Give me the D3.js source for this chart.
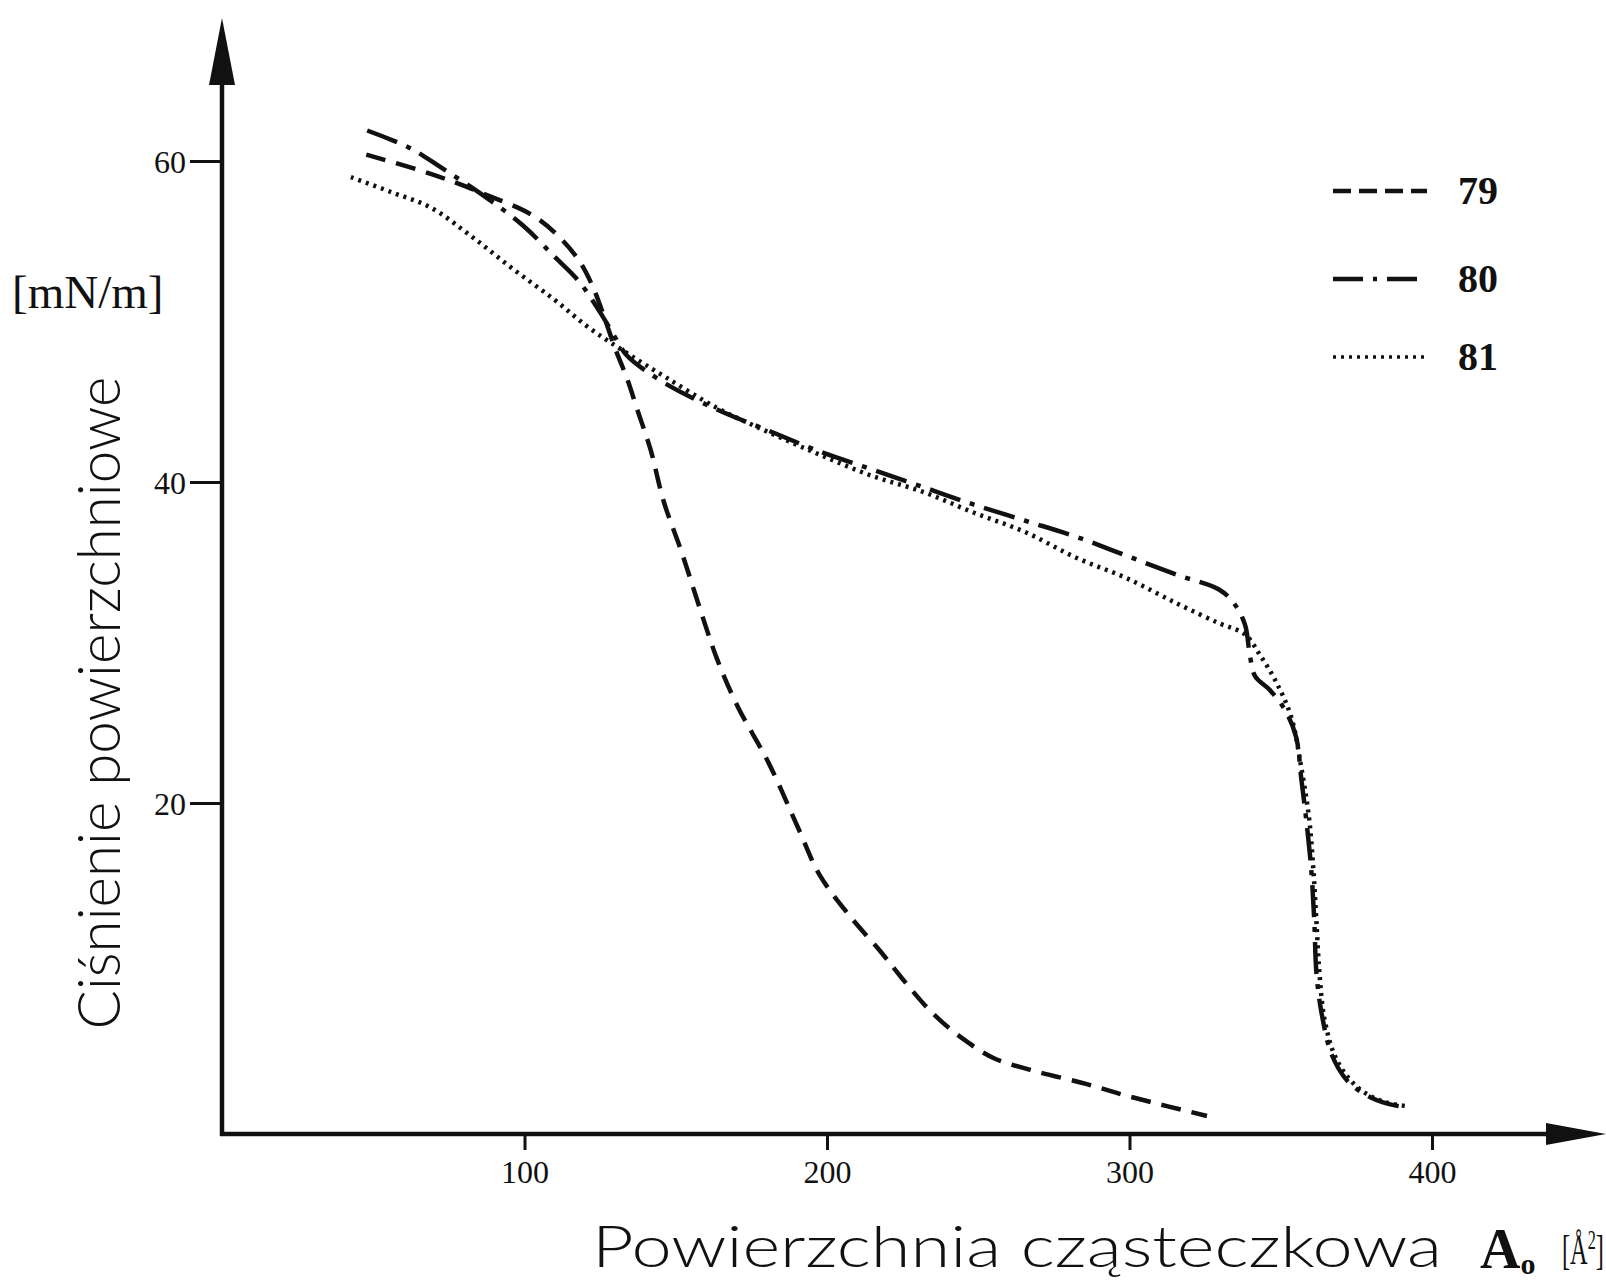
<!DOCTYPE html>
<html lang="pl">
<head>
<meta charset="utf-8">
<title>Izotermy</title>
<script src="https://cdn.jsdelivr.net/npm/d3@7"></script>
<style>
  body { margin: 0; background: #fff; }
  .tick text { font-family: "Liberation Serif", serif; font-size: 32px; fill: #111; }
  .tick line { stroke: #111; stroke-width: 3px; }
  .curve { fill: none; stroke: #111; stroke-width: 4.5px; }
  .hand { font-family: Lato, "Open Sans", sans-serif; font-weight: 300; fill: #111; }
  .serif { font-family: "Liberation Serif", serif; fill: #111; }
</style>
</head>
<body>
<div id="chart"></div>
<script>
// pole powierzchni na czasteczke [A^2] i cisnienie [mN/m]
var area79 = [47.7, 69, 86, 102.8, 111.3, 118, 122.5, 126.5, 130, 134, 137.3, 141.7, 146, 152, 158.7, 163.8, 170.5, 180.7, 190.8, 197.6, 207.8, 217.9, 224.7, 234.9, 245, 255.2, 268.7, 285.6, 299.2, 312.7, 325.6];
var pi79   = [60.4, 59.2, 58.0, 56.6, 55.3, 53.8, 52.2, 50.2, 48.3, 46.4, 44.5, 42, 38.8, 35.6, 31.7, 28.9, 26, 22.5, 18.3, 15.5, 12.9, 10.7, 9.1, 6.9, 5.3, 4.1, 3.3, 2.5, 1.75, 1.1, 0.5];

var area80 = [48, 62.2, 72.4, 86, 99.4, 109.6, 118, 124.9, 130, 133.3, 136.7, 146.9, 163.8, 180.7, 197.6, 214.6, 231.5, 248.4, 265.3, 282.2, 299.1, 316, 329.6, 334.7, 338.2, 339.8, 341.5, 346.6, 351.7, 355.1, 356.8, 358.4, 360.1, 361.1, 361.8, 363.5, 366.9, 372, 378.7, 385.5, 391.3];
var pi80   = [61.9, 60.8, 59.6, 57.9, 56, 54.1, 52.5, 50.6, 49, 48, 47.4, 46.1, 44.5, 43.2, 41.9, 40.8, 39.7, 38.6, 37.6, 36.6, 35.4, 34.2, 33.3, 32.4, 31.1, 29.2, 27.9, 27, 25.7, 24.1, 21.5, 19, 15.8, 12.6, 9.4, 6.9, 4.3, 2.7, 1.75, 1.25, 1.05];

var area81 = [42.6, 55.4, 69, 82.5, 96, 109.6, 121.4, 133.3, 146.9, 163.8, 180.7, 197.6, 214.6, 231.5, 248.4, 265.3, 282.2, 299.1, 316, 329.6, 338.2, 343.2, 348.3, 353.4, 356.8, 359.4, 360.8, 361.8, 362.8, 364.5, 368.5, 375.3, 383.8, 392.3];
var pi81   = [59, 58.1, 57.1, 55.3, 53.3, 51.4, 49.6, 48.1, 46.5, 44.6, 43.1, 41.7, 40.4, 39.4, 38.1, 36.9, 35.3, 34, 32.4, 31.2, 30.5, 29.2, 27.6, 25.4, 22.2, 19, 15.8, 12.6, 9.4, 6.5, 4, 2.3, 1.4, 1.1];

var seriesNames = ["79", "80", "81"];
var xTicks = [100, 200, 300, 400];
var yTicks = [20, 40, 60];

var width = 1606, height = 1282;
var ox = 222, oy = 1134;

var svg = d3.select("#chart").append("svg")
    .attr("width", width)
    .attr("height", height);

var x = d3.scaleLinear().domain([0, 400]).range([ox, 1432]);
var y = d3.scaleLinear().domain([0, 60]).range([1124, 161]);

// osie ze strzalkami
svg.append("line").attr("x1", ox).attr("y1", oy + 2).attr("x2", ox).attr("y2", 80)
    .attr("stroke", "#111").attr("stroke-width", 4.5);
svg.append("path").attr("d", "M" + ox + ",18 L" + (ox - 13) + ",85 L" + (ox + 13) + ",85 Z").attr("fill", "#111");

svg.append("line").attr("x1", ox - 2).attr("y1", oy).attr("x2", 1552).attr("y2", oy)
    .attr("stroke", "#111").attr("stroke-width", 4.5);
svg.append("path").attr("d", "M1606," + oy + " L1546," + (oy - 11) + " L1546," + (oy + 11) + " Z").attr("fill", "#111");

var gx = svg.append("g").attr("transform", "translate(0," + oy + ")")
    .call(d3.axisBottom(x).tickValues(xTicks).tickSize(16).tickPadding(10).tickFormat(d3.format("d")));
gx.select(".domain").remove();

var gy = svg.append("g").attr("transform", "translate(" + ox + ",0)")
    .call(d3.axisLeft(y).tickValues(yTicks).tickSize(32).tickPadding(4).tickFormat(d3.format("d")));
gy.select(".domain").remove();
gy.selectAll(".tick text").attr("dy", "0.36em");

// krzywe
var lineY = d3.line().x(function(d) { return x(d[0]); }).y(function(d) { return y(d[1]); }).curve(d3.curveCatmullRom.alpha(0.5));

var dashes = ["20,11", "32,10,5,10", "3,5"];
var data = [d3.zip(area79, pi79), d3.zip(area80, pi80), d3.zip(area81, pi81)];

svg.selectAll(".curve").data(data).enter().append("path")
    .attr("class", "curve")
    .attr("d", lineY)
    .attr("stroke-dasharray", function(d, i) { return dashes[i]; })
    .attr("stroke-width", function(d, i) { return i == 2 ? 3.5 : 4.5; });

// legenda
var leg = svg.selectAll(".leg").data(seriesNames).enter().append("g")
    .attr("class", "leg")
    .attr("transform", function(d, i) { return "translate(1333," + [191, 279, 357][i] + ")"; });
leg.append("line").attr("x1", 0).attr("x2", 94).attr("y1", 0).attr("y2", 0)
    .attr("stroke", "#111")
    .attr("stroke-width", function(d, i) { return i == 2 ? 3.5 : 4.5; })
    .attr("stroke-dasharray", function(d, i) { return ["18,8", "30,10,4,10", "3,5"][i]; });
leg.append("text").attr("class", "serif").attr("x", 125).attr("y", 13)
    .style("font-size", "40px").style("font-weight", "bold")
    .text(function(d) { return d; });

// opisy osi
svg.append("text").attr("class", "serif").attr("x", 12).attr("y", 308)
    .style("font-size", "47px").text("[mN/m]");

svg.append("text").attr("class", "hand")
    .attr("transform", "translate(120,703) rotate(-90)")
    .attr("text-anchor", "middle")
    .attr("textLength", 653).attr("lengthAdjust", "spacingAndGlyphs")
    .style("font-size", "60px")
    .text("Ciśnienie powierzchniowe");

svg.append("text").attr("class", "hand")
    .attr("x", 592).attr("y", 1267)
    .attr("textLength", 850).attr("lengthAdjust", "spacingAndGlyphs")
    .style("font-size", "57px")
    .text("Powierzchnia cząsteczkowa");

var a0 = svg.append("text").attr("class", "serif").attr("x", 1480).attr("y", 1268)
    .style("font-size", "56px").style("font-weight", "bold");
a0.append("tspan").text("A");
a0.append("tspan").attr("dy", 6).style("font-size", "30px").text("o");

var unit = svg.append("text").attr("class", "serif")
    .attr("transform", "translate(1562,1264) scale(0.58,1)")
    .style("font-size", "42px");
unit.append("tspan").text("[Å");
unit.append("tspan").attr("dy", -15).style("font-size", "28px").text("2");
unit.append("tspan").attr("dy", 15).text("]");
</script>
</body>
</html>
